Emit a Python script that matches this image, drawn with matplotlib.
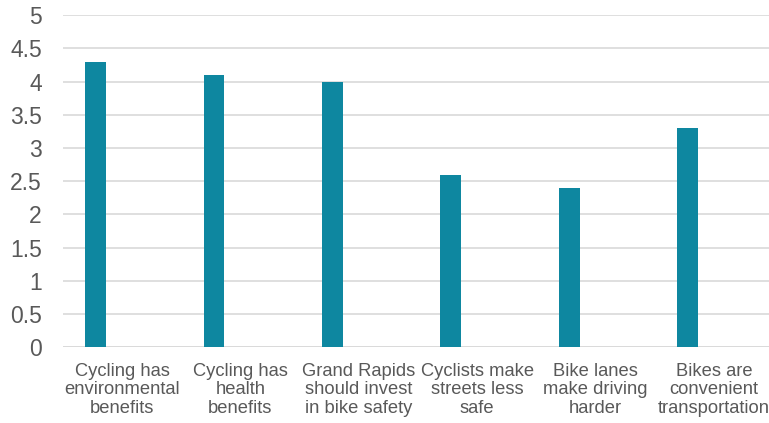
import matplotlib
matplotlib.use("Agg")
import matplotlib.pyplot as plt
import numpy as np

plt.rcParams['font.family'] = ['Liberation Sans', 'DejaVu Sans']

categories = [
    "Cycling has\nenvironmental\nbenefits",
    "Cycling has\nhealth\nbenefits",
    "Grand Rapids\nshould invest\nin bike safety",
    "Cyclists make\nstreets less\nsafe",
    "Bike lanes\nmake driving\nharder",
    "Bikes are\nconvenient\ntransportation",
]
scores = [4.3, 4.1, 4.0, 2.6, 2.4, 3.3]
y_ticks = [0, 0.5, 1, 1.5, 2, 2.5, 3, 3.5, 4, 4.5, 5]
y_tick_labels = ["0", "0.5", "1", "1.5", "2", "2.5", "3", "3.5", "4", "4.5", "5"]

bar_color = "#0e87a0"
text_color = "#595959"
grid_color = "#d9d9d9"

fig = plt.figure(figsize=(7.69, 4.23), dpi=100)
ax = fig.add_axes([0.0817, 0.179, 0.924, 0.785])

x = np.arange(len(categories))
ax.bar(x - 0.224, scores, width=0.175, color=bar_color, zorder=3)

ax.set_xlim(-0.5, len(categories) - 0.5)
ax.set_ylim(0, 5)
ax.set_yticks(y_ticks)
ax.set_yticklabels(y_tick_labels)
ax.set_xticks(x)
ax.set_xticklabels(categories, linespacing=1.14)

ax.yaxis.grid(True, color=grid_color, linewidth=1.2, zorder=0)
ax.xaxis.grid(False)
for s in ax.spines.values():
    s.set_visible(False)
ax.axhline(0, color=grid_color, linewidth=1.2, zorder=1)

ax.tick_params(axis='y', length=0, pad=15, labelsize=16.5, labelcolor=text_color)
ax.tick_params(axis='x', length=0, pad=11, labelsize=13.2, labelcolor=text_color)

fig.savefig("out.png", dpi=100)
